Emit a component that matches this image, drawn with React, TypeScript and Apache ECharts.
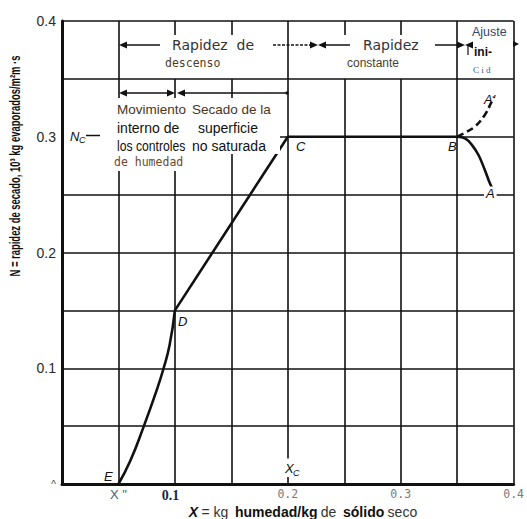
import React, { useEffect, useRef } from "react";
import * as echarts from "echarts";

// Drying-rate curve: N (rate) against X (free moisture content)
const fallingRateEtoD: number[][] = [
  [0.05, 0], [0.0605, 0.02], [0.0725, 0.05], [0.0835, 0.08],
  [0.09, 0.1], [0.0953, 0.12], [0.1, 0.15],
];
const linearDtoB: number[][] = [[0.1, 0.15], [0.2, 0.3], [0.35, 0.3]];
const warmupBtoA: number[][] = [
  [0.35, 0.3], [0.357, 0.2985], [0.363, 0.293], [0.369, 0.284],
  [0.3746, 0.271], [0.3785, 0.261], [0.3825, 0.2525],
];
const cooldownBtoAprime: number[][] = [
  [0.35, 0.3], [0.358, 0.304], [0.366, 0.309], [0.3746, 0.319],
  [0.3804, 0.33], [0.3827, 0.3346],
];

// Tick texts
const xTickText: Record<number, string> = {
  5: '{xs|X "}',
  10: "{a|0.1}",
  20: "{m|0.2}",
  30: "{m|0.3}",
  40: "{m|0.4}",
};
const yTickText: Record<number, string> = {
  0: "{z|^}",
  10: "0.1",
  20: "0.2",
  30: "0.3",
  40: "0.4",
};

// Ruled grid: [x, yFrom, yTo] and [y, xFrom, xTo]
const verticalRules: number[][] = [
  [0.05, 0, 0.4],
  [0.1, 0.388, 0.4], [0.1, 0, 0.35],
  [0.15, 0.388, 0.4], [0.15, 0, 0.35],
  [0.2, 0.022, 0.4], [0.2, 0, 0.006],
  [0.25, 0.388, 0.4], [0.25, 0, 0.35],
  [0.3, 0.388, 0.4], [0.3, 0, 0.35],
  [0.35, 0, 0.4],
  [0.4, 0, 0.4],
];
const horizontalRules: number[][] = [
  [0.4, 0, 0.4],
  [0.35, 0, 0.4],
  [0.3, 0.185, 0.4],
  [0.25, 0, 0.4],
  [0.2, 0, 0.4],
  [0.15, 0, 0.4],
  [0.1, 0, 0.4],
  [0.05, 0, 0.4],
];

const INK = "#111";

function arrowHead(tipX: number, tipY: number, dir: 1 | -1, len = 8, half = 3.5) {
  return {
    type: "polygon",
    z: 110,
    shape: { points: [[tipX, tipY], [tipX - dir * len, tipY - half], [tipX - dir * len, tipY + half]] },
    style: { fill: INK },
  };
}

function hLine(x1: number, x2: number, y: number, dash?: number[]) {
  return {
    type: "line",
    z: 110,
    shape: { x1, y1: y, x2, y2: y },
    style: { stroke: INK, lineWidth: 1.5, lineDash: dash },
  };
}

function label(text: string, x: number, y: number, extra: Record<string, unknown> = {}, scaleX = 1) {
  return {
    type: "text",
    z: 120,
    x,
    y,
    scaleX,
    style: {
      text,
      fill: INK,
      font: "13px 'Liberation Sans'",
      verticalAlign: "middle",
      ...extra,
    },
  };
}

export default function App() {
  const ref = useRef<HTMLDivElement>(null);

  useEffect(() => {
    document.body.style.margin = "0";
    if (!ref.current) return;
    const chart = echarts.init(ref.current, undefined, { renderer: "svg" });

    const ruleData: any[] = [
      ...verticalRules.map(([x, y0, y1]) => [{ coord: [x, y0] }, { coord: [x, y1] }]),
      ...horizontalRules.map(([y, x0, x1]) => [{ coord: [x0, y] }, { coord: [x1, y] }]),
    ];

    const curveStyle = { color: INK, width: 2.6 };

    chart.setOption({
      animation: false,
      grid: { left: 62, top: 21, right: 8, bottom: 35 },
      xAxis: {
        type: "value",
        min: 0,
        max: 0.4,
        interval: 0.05,
        splitLine: { show: false },
        axisTick: { show: false },
        axisLine: { lineStyle: { color: INK, width: 3 } },
        axisLabel: {
          margin: 4,
          showMinLabel: true,
          showMaxLabel: true,
          formatter: (v: number) => xTickText[Math.round(v * 100)] ?? "",
          rich: {
            xs: { fontFamily: "Liberation Sans", fontSize: 13, color: "#4a5d80" },
            a: { fontFamily: "Liberation Serif", fontWeight: "bold", fontSize: 14, color: "#1d2642", padding: [0, 9, 0, 0] },
            m: { fontFamily: "DejaVu Sans Mono", fontSize: 11.5, color: "#7a7a7a" },
          },
        },
      },
      yAxis: {
        type: "value",
        min: 0,
        max: 0.4,
        interval: 0.1,
        splitLine: { show: false },
        axisTick: { show: false },
        axisLine: { show: true, lineStyle: { color: INK, width: 3 } },
        axisLabel: {
          margin: 6,
          fontFamily: "Liberation Sans",
          fontSize: 14,
          color: "#2a2a2a",
          formatter: (v: number) => yTickText[Math.round(v * 100)] ?? "",
          rich: { z: { fontSize: 10, color: "#444" } },
        },
      },
      series: [
        {
          type: "line",
          data: [],
          silent: true,
          markLine: {
            silent: true,
            symbol: "none",
            label: { show: false },
            lineStyle: { color: INK, width: 1.6, type: "solid" },
            emphasis: { disabled: true },
            data: ruleData,
          },
        },
        { type: "line", data: fallingRateEtoD, smooth: 0.5, symbol: "none", lineStyle: curveStyle, z: 5 },
        { type: "line", data: linearDtoB, symbol: "none", lineStyle: curveStyle, z: 5 },
        { type: "line", data: warmupBtoA, smooth: 0.4, symbol: "none", lineStyle: curveStyle, z: 5 },
        {
          type: "line",
          data: cooldownBtoAprime,
          smooth: 0.4,
          symbol: "none",
          lineStyle: { ...curveStyle, type: [7, 4] },
          z: 5,
        },
      ],
      graphic: [
        // blank the ruling behind the annotation block
        { type: "rect", z: 100, shape: { x: 105, y: 98, width: 175, height: 56 }, style: { fill: "#fff" } },
        { type: "rect", z: 100, shape: { x: 105, y: 153, width: 90, height: 18 }, style: { fill: "#fff" } },

        // top band: periods of drying
        arrowHead(119, 45, -1),
        hLine(127, 160, 45),
        label("Rapidez  de", 172, 45, { font: "14px 'DejaVu Sans'", fill: "#333" }),
        hLine(273, 310, 45, [3, 1.5]),
        arrowHead(318, 45, 1),
        arrowHead(318, 45, -1),
        hLine(326, 350, 45),
        label("Rapidez", 363, 45, { font: "14px 'DejaVu Sans'", fill: "#333" }),
        hLine(435, 458, 45),
        arrowHead(465, 45, 1),
        arrowHead(465, 45, -1),
        { type: "line", z: 110, shape: { x1: 468, y1: 44, x2: 468, y2: 55 }, style: { stroke: INK, lineWidth: 1.2 } },
        arrowHead(519, 44, 1, 6, 3),
        label("descenso", 165, 63, { font: "11.5px 'DejaVu Sans Mono'", fill: "#4e3b28" }),
        label("constante", 347, 63, { font: "12px 'Liberation Sans'", fill: "#4a3d30" }),
        label("Ajuste", 472, 32, { font: "12.5px 'Liberation Sans'", fill: "#34466e" }),
        label("ini-", 474, 52, { font: "bold 12px 'Liberation Sans'" }),
        label("C i d", 473, 70, { font: "9px 'Liberation Serif'", fill: "#3a5a9a" }),

        // second band: falling-rate sub-periods
        arrowHead(119, 93, -1),
        hLine(127, 168, 93),
        arrowHead(175, 93, 1),
        arrowHead(177, 93, -1),
        hLine(185, 286, 93),
        { type: "circle", z: 110, shape: { cx: 287, cy: 93, r: 1.6 }, style: { fill: INK } },
        label("Movimiento", 117, 109, { font: "13.5px 'Liberation Sans'", fill: "#4a3520" }),
        label("Secado de la", 192, 109, { font: "13.5px 'Liberation Sans'", fill: "#4a3520" }),
        label("interno de", 117, 128, { font: "14px 'Liberation Sans'" }),
        label("superficie", 198, 128, { font: "14px 'Liberation Sans'" }),
        label("los controles", 117, 146, { font: "14px 'Liberation Sans'" }, 0.87),
        label("no saturada", 192, 146, { font: "14px 'Liberation Sans'" }),
        label("de humedad", 114, 162, { font: "11.5px 'DejaVu Sans Mono'", fill: "#6b4a2a" }),

        // point letters
        label("N", 70, 136, { font: "italic 13px 'Liberation Sans'" }),
        label("C", 79, 140, { font: "italic 9px 'Liberation Sans'" }),
        hLine(86, 100, 135.5),
        label("C", 296, 146, { font: "italic 13px 'Liberation Sans'" }),
        label("B", 448, 146, { font: "italic 13px 'Liberation Sans'" }),
        label("A", 484, 193, { font: "italic 13px 'Liberation Sans'", backgroundColor: "#fff", padding: [0, 2] }),
        label("A'", 484, 99, { font: "italic 13px 'Liberation Sans'" }),
        label("D", 178, 321, { font: "italic 13px 'Liberation Sans'" }),
        label("E", 104, 476, { font: "italic 13px 'Liberation Sans'" }),
        label("X", 285, 468, { font: "italic 13px 'Liberation Sans'" }),
        label("C", 293, 473, { font: "italic 9px 'Liberation Sans'" }),

        // axis titles
        {
          type: "text",
          z: 120,
          x: 15,
          y: 166,
          rotation: Math.PI / 2,
          scaleX: 0.63,
          style: {
            text: "N = rapidez de secado, 10³ kg evaporados/m²m ·s",
            font: "bold 15px 'Liberation Sans'",
            fill: INK,
            align: "center",
            verticalAlign: "middle",
          },
        },
        {
          type: "text",
          z: 120,
          x: 303,
          y: 512,
          style: {
            text: "{xi|X} {n|= kg}  {b|humedad/kg} {n|de}  {b|sólido} {n|seco}",
            align: "center",
            verticalAlign: "middle",
            rich: {
              xi: { font: "bold italic 14px 'Liberation Sans'", fill: INK },
              n: { font: "14px 'Liberation Sans'", fill: "#333" },
              b: { font: "bold 14px 'Liberation Sans'", fill: INK },
            },
          },
        },
      ],
    });

    return () => chart.dispose();
  }, []);

  return <div ref={ref} style={{ width: 527, height: 519 }} />;
}
